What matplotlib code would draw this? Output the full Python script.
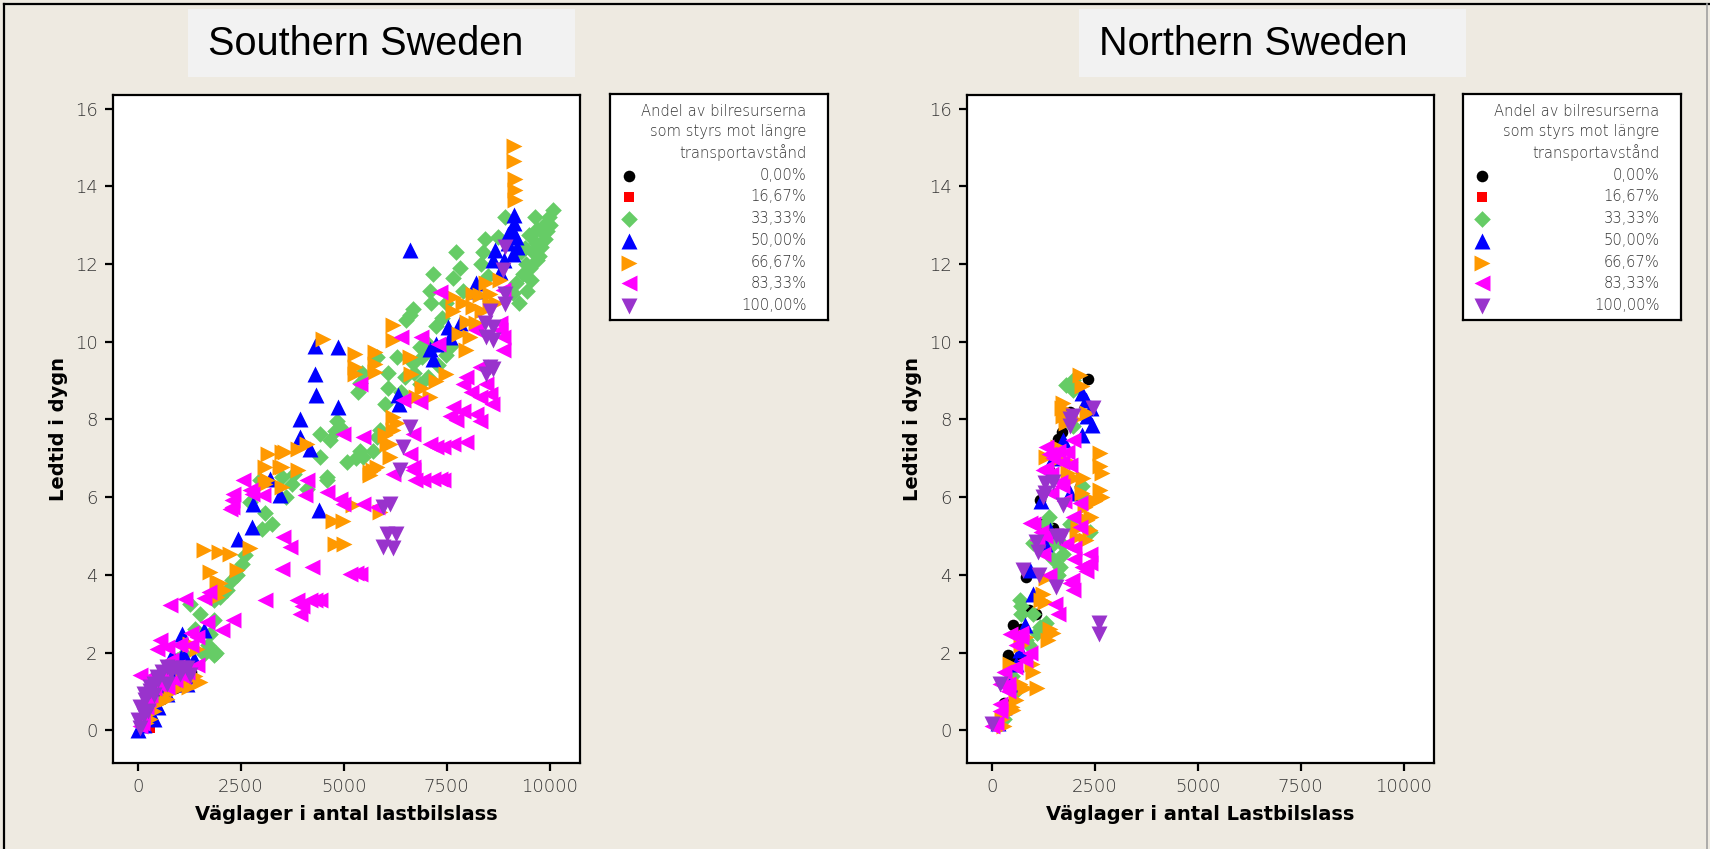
import matplotlib
matplotlib.use("Agg")
import matplotlib.pyplot as plt
from matplotlib.patches import Rectangle
from matplotlib.lines import Line2D

# series order / styling
labels = ["0,00%", "16,67%", "33,33%", "50,00%", "66,67%", "83,33%", "100,00%"]
colors = ["#000000", "#ff0000", "#66cc66", "#0000ff", "#ff9900", "#ff00ff", "#9933cc"]
markers = ["o", "s", "D", "^", ">", "<", "v"]
sizes = [70, 60, 72, 132, 132, 132, 132]

# ---------------- Southern Sweden ----------------
s_black_x = [100, 300, 1100, 1300, 900, 600]
s_black_y = [0.1, 0.35, 1.3, 1.5, 1.1, 0.8]
s_red_x = [300, 150]
s_red_y = [0.05, 0.1]
s_green_x = [10080, 9990, 9918, 9836, 9700, 9676, 9596, 9800, 9880, 9700, 9434, 9353, 9520, 9192, 9111,
             9636, 9500, 9400, 9300, 9560, 9750, 9950, 10000, 9460, 9250,
             8909, 8750, 8424, 8384, 8343, 8500, 7738, 7819, 7657, 7900, 7173, 7092, 7133, 6688, 6526,
             7495, 6600, 7400, 7250,
             7000, 7100, 6900, 6850, 6690, 7052, 6850, 7495, 7300, 7600, 6700, 6500, 6082, 6082, 6001,
             5355, 5450, 5400, 4830, 4800, 6300, 5800, 6400,
             4426, 4669, 4911, 5072, 4426, 5476, 5799, 5719, 4588, 5880, 5395, 5300, 4588, 3740, 3497,
             2973, 2730, 3013, 3255, 3100, 2528, 2286, 2165, 2407, 2600, 2003, 1842, 1842, 1761, 1842,
             1599, 1115, 953, 1276, 1519, 1700, 1400, 1900, 700, 400, 200, 500, 3800, 4100, 3600]
s_green_y = [13.4, 13.2, 13.05, 12.8, 12.9, 12.55, 12.3, 12.45, 12.65, 12.1, 12.0, 11.75, 11.9, 11.5, 11.25,
             13.2, 12.75, 12.4, 12.3, 11.6, 12.2, 12.85, 13.0, 11.3, 11.0,
             13.2, 12.7, 12.65, 12.3, 12.0, 11.7, 12.3, 11.9, 11.65, 11.3, 11.75, 11.3, 11.0, 10.85, 10.55,
             11.0, 10.7, 10.6, 10.4,
             10.0, 9.8, 9.6, 9.86, 9.45, 9.1, 8.92, 9.65, 9.4, 9.9, 9.2, 9.1, 9.2, 8.8, 8.4,
             8.7, 9.2, 8.95, 7.97, 7.7, 9.6, 9.6, 8.7,
             7.63, 7.46, 7.8, 6.9, 7.03, 7.03, 7.55, 7.2, 6.52, 7.72, 7.2, 7.0, 6.43, 6.35, 6.52,
             6.43, 5.88, 5.19, 5.32, 5.6, 4.29, 3.86, 3.6, 3.99, 4.5, 3.43, 3.35, 2.83, 2.49, 1.93,
             1.97, 1.97, 1.8, 3.26, 3.0, 2.2, 2.6, 2.0, 1.3, 0.7, 0.3, 0.9, 6.6, 6.2, 6.0]
s_blue_x = [6607, 9135, 9130, 9100, 9180, 8990, 9200, 9000, 9120, 8667, 8627, 8222, 8180, 8900, 8800,
            7536, 7819, 7576, 7253, 7092, 7173,
            4305, 4870, 4305, 4330, 3942, 3942, 4184, 4870, 6324,
            3215, 3457, 2811, 2771, 2447, 4410, 1074, 832, 1357, 1599, 307, 0, 711, 500, 150, 1000,
            1200, 600, 400, 6350, 900, 1300, 1100, 800]
s_blue_y = [12.35, 13.25, 13.05, 12.87, 12.7, 12.78, 12.45, 12.55, 12.27, 12.35, 12.1, 11.5, 11.3, 12.1, 11.8,
            10.38, 10.47, 10.12, 9.95, 9.82, 9.56,
            9.9, 9.86, 9.18, 8.62, 8.02, 7.55, 7.25, 8.32, 8.62,
            6.48, 6.05, 5.83, 5.23, 4.93, 5.66, 2.49, 1.93, 1.84, 2.57, 0.34, 0.0, 0.94, 0.6, 0.15, 1.5,
            1.2, 1.1, 0.3, 8.4, 1.2, 1.4, 2.0, 1.6]
s_orange_x = [9135, 9135, 9150, 9150, 9150,
              4507, 6203, 6203, 5274, 5274, 5274, 5759, 5759, 5759, 6607, 6647,
              7657, 7657, 8141, 8141, 8465, 8545, 8788, 8222, 8060, 7980, 8545, 7900, 8300, 8700, 8000,
              7800, 8350,
              7495, 7253, 7092, 6769, 6900,
              6203, 6203, 6122, 6122, 5638, 5799, 6300, 6000,
              3174, 3093, 3497, 3901, 4103, 3497, 3901, 3134, 3578, 3093, 3497, 3457,
              1599, 1963, 2245, 2730, 1761, 2407, 1922, 1922, 1276, 1438, 1236, 1518, 953, 700, 400, 200,
              4749, 4991, 5234, 4790, 5000, 6042, 5719, 5638, 5880, 2000, 2100,
              500, 800, 1100, 1400, 300]
s_orange_y = [15.05, 14.65, 14.2, 13.9, 13.64,
              10.08, 10.42, 10.04, 9.69, 9.35, 9.18, 9.74, 9.44, 9.22, 9.6, 9.18,
              11.15, 10.8, 11.24, 10.9, 11.5, 11.24, 11.58, 10.47, 10.12, 9.78, 10.98, 11.0, 11.2, 11.0, 10.5,
              10.2, 10.8,
              9.18, 9.0, 8.58, 8.58, 8.8,
              8.06, 7.72, 7.38, 7.03, 6.65, 6.78, 7.9, 7.6,
              7.12, 6.78, 7.16, 7.25, 7.38, 6.78, 6.69, 6.43, 7.16, 6.35, 6.26, 6.78,
              4.63, 4.59, 4.55, 4.68, 4.07, 4.12, 3.82, 3.43, 2.23, 2.1, 1.12, 1.24, 1.07, 0.8, 0.5, 0.2,
              5.4, 5.4, 5.79, 4.8, 4.8, 7.38, 6.69, 6.56, 5.62, 3.8, 3.6,
              0.7, 1.0, 1.3, 1.4, 0.3]
s_magenta_x = [7334, 6405, 6890, 7294, 8868, 8788, 8868, 8868, 8800, 8222,
               5395, 6446, 6850, 7980, 7900, 8303, 8465, 8545, 8303, 8600, 8100,
               7657, 7900, 8222, 7580, 7738, 8300,
               4992, 5476, 6688, 7092, 7415, 7657, 7980, 7250,
               6607, 6688, 6203, 7173, 7334, 6931, 6728, 7415, 6688,
               2568, 2730, 4103, 2326, 2286, 2245, 2771, 3053, 4063, 4588, 4911, 4991, 5476, 5799, 2300,
               3538, 3699, 3497, 4224, 5153, 5395, 5300,
               3093, 3861, 4184, 4426, 3942, 4000, 4300,
               792, 1155, 1721, 1600, 2326, 2043, 1680,
               549, 711, 468, 1034, 1438, 1300,
               65, 307, 711, 953, 1438, 100, 200, 300, 50, 600, 900, 1200,
               100, 250, 400, 500, 800, 1100, 1300, 1000]
s_magenta_y = [11.28, 10.12, 10.12, 9.95, 11.32, 10.47, 10.12, 9.78, 10.3, 10.29,
               8.92, 8.49, 8.45, 9.09, 8.92, 9.35, 8.92, 8.66, 8.58, 8.4, 8.7,
               8.32, 8.23, 8.15, 8.1, 7.98, 7.95,
               7.63, 7.55, 7.63, 7.38, 7.29, 7.38, 7.42, 7.3,
               7.12, 6.78, 6.6, 6.48, 6.48, 6.43, 6.43, 6.43, 6.69,
               6.43, 6.18, 6.43, 6.09, 5.92, 5.7, 6.09, 6.05, 6.05, 6.13, 5.96, 5.83, 5.83, 5.75, 5.75,
               4.98, 4.72, 4.16, 4.2, 4.03, 4.03, 4.05,
               3.35, 3.35, 3.35, 3.35, 3.0, 3.2, 3.35,
               3.22, 3.39, 3.56, 3.4, 2.83, 2.57, 2.79,
               2.32, 2.14, 2.1, 2.23, 2.4, 2.5,
               1.42, 1.37, 1.12, 1.63, 1.67, 0.3, 0.6, 0.9, 0.1, 1.4, 1.3, 1.5,
               0.2, 0.8, 1.1, 1.2, 1.8, 1.4, 2.2, 2.2]
s_purple_x = [8909, 8868, 8909, 8909, 8545, 8424, 8625, 8465, 8625, 8545, 8465, 8625,
              6607, 6446, 6365, 6122, 5961, 6042, 6284, 5961, 6203,
              711, 1034, 1276, 468, 307, 145, 65, 0, 186, 388, 900, 1100, 250, 50,
              300, 500, 600, 800, 400, 150, 700, 1200]
s_purple_y = [12.44, 11.84, 11.24, 10.98, 10.8, 10.47, 10.38, 10.12, 10.04, 9.35, 9.18, 9.3,
              7.81, 7.29, 6.69, 5.83, 5.75, 5.06, 5.06, 4.72, 4.68,
              1.63, 1.46, 1.42, 1.37, 1.12, 0.94, 0.6, 0.26, 0.77, 1.2, 1.6, 1.6, 0.5, 0.05,
              1.0, 1.3, 1.5, 1.5, 0.9, 0.4, 1.2, 1.6]

# ---------------- Northern Sweden ----------------
n_black_x = [2344, 1695, 1168, 1492, 843, 1087, 519, 397, 154, 2141, 600, 1400, 1600, 300, 1900, 1200, 700, 900]
n_black_y = [9.05, 7.69, 5.93, 5.2, 3.95, 3.0, 2.7, 1.93, 0.17, 6.27, 1.8, 6.7, 7.5, 0.7, 8.2, 5.3, 2.6, 3.1]
n_red_x = [150]
n_red_y = [0.1]
n_green_x = [1979, 1979, 1979, 1006, 1735, 1654, 1492, 681, 722, 1330, 1168, 843, 2384, 1500, 700, 1100,
             1900, 2200, 1600, 1800, 1400, 300, 500,
             1300, 1000, 900, 1500, 1700, 600, 2200]
n_green_y = [9.02, 8.76, 7.82, 4.81, 4.55, 4.21, 3.95, 3.35, 3.0, 2.75, 2.66, 2.32, 5.11, 4.4, 3.2, 2.5,
             5.3, 6.0, 4.0, 8.9, 5.5, 0.3, 1.4,
             5.3, 3.0, 2.2, 4.8, 4.8, 1.0, 6.3]
n_blue_x = [2303, 2425, 2182, 1735, 1411, 925, 681, 438, 150, 2300, 2400, 1500, 1200, 1300, 1900, 800,
            600, 300, 2200, 1000]
n_blue_y = [8.08, 7.86, 8.68, 7.47, 5.15, 4.12, 2.06, 1.2, 0.2, 8.5, 8.3, 7.0, 5.9, 4.8, 6.1, 2.7,
            1.7, 0.6, 7.6, 3.5]
n_orange_x = [2141, 2182, 1735, 1735, 2303, 2628, 2628, 2668, 2628, 2668, 2263, 2303, 2384, 2060, 1330,
              1208, 1411, 1370, 973, 681, 519, 1857, 2222, 1330, 843, 438, 600, 250, 1100, 1900, 2400,
              2100, 1600, 300,
              1700, 1800, 1650, 2000, 2200, 2500, 2300, 1300, 1500, 1000, 800, 500, 700, 1250, 1900, 2000]
n_orange_y = [9.15, 8.85, 8.42, 8.08, 8.16, 7.13, 6.79, 6.62, 6.19, 6.01, 5.76, 5.41, 5.15, 4.98, 3.91,
              3.35, 2.62, 2.32, 1.72, 1.2, 0.52, 6.62, 6.49, 7.04, 2.41, 1.72, 0.77, 0.3, 1.1, 6.9, 5.5,
              5.2, 7.3, 0.1,
              8.3, 7.9, 7.0, 6.5, 6.1, 5.9, 4.9, 3.3, 2.5, 1.5, 1.1, 0.6, 2.2, 3.5, 8.1, 8.0]
n_magenta_x = [1330, 1817, 1898, 1330, 1654, 1979, 2141, 1979, 2141, 925, 1249, 2384, 2384, 2182, 1938,
               1979, 1533, 438, 925, 560, 195, 0, 195, 1500, 1750, 2000, 1450, 700, 400, 1100,
               1400, 1600, 1700, 1450, 1200, 1000, 1300, 2000, 2300, 1900, 1800, 1400, 700, 600, 800,
               300, 400, 200, 100, 1600, 1250, 1700]
n_magenta_y = [7.3, 7.17, 6.83, 6.74, 6.4, 7.47, 5.84, 5.5, 5.24, 5.33, 4.55, 4.55, 4.3, 4.21, 3.87,
               3.61, 3.26, 2.49, 1.98, 1.63, 0.69, 0.1, 1.2, 7.0, 5.9, 4.7, 6.1, 2.4, 1.0, 4.9,
               7.1, 7.2, 6.9, 6.6, 5.1, 5.3, 5.0, 4.4, 4.1, 3.8, 4.8, 4.0, 2.5, 2.2, 1.8,
               1.5, 1.2, 0.5, 0.2, 3.0, 6.7, 6.3]
n_purple_x = [2449, 1979, 1898, 1290, 1249, 1735, 1654, 1087, 762, 1573, 195, 0, 2611, 2611, 1130, 1550,
              1900, 1150, 1700, 1300, 1500]
n_purple_y = [8.29, 8.08, 7.82, 6.36, 6.01, 5.8, 4.98, 4.85, 4.12, 3.69, 1.2, 0.17, 2.75, 2.49, 4.6, 5.0,
              8.0, 4.0, 5.0, 6.1, 6.4]

south = [(s_black_x, s_black_y), (s_red_x, s_red_y), (s_green_x, s_green_y), (s_blue_x, s_blue_y),
         (s_orange_x, s_orange_y), (s_magenta_x, s_magenta_y), (s_purple_x, s_purple_y)]
north = [(n_black_x, n_black_y), (n_red_x, n_red_y), (n_green_x, n_green_y), (n_blue_x, n_blue_y),
         (n_orange_x, n_orange_y), (n_magenta_x, n_magenta_y), (n_purple_x, n_purple_y)]

legend_title = ["Andel av bilresurserna", "som styrs mot längre", "transportavstånd"]

BG = "#eeeae1"
TICK_FONT = "DejaVu Sans"
TEXT_GREY = "#333333"

W, H = 1710, 849
fig = plt.figure(figsize=(W / 100, H / 100), dpi=100)
fig.patch.set_facecolor(BG)


def fx(px):
    return px / W


def fy(py):
    return 1 - py / H


def panel(left_px, data, xlabel, title, title_left_px, legend_left_px):
    ax = fig.add_axes([fx(left_px), fy(763), 467 / W, 668 / H])
    for (xs, ys), c, m, s in zip(data, colors, markers, sizes):
        ax.scatter(xs, ys, marker=m, s=s, color=c, linewidths=0, zorder=3)
    ax.set_xlim(-600, 10740)
    ax.set_ylim(-0.84, 16.35)
    ax.set_xticks([0, 2500, 5000, 7500, 10000])
    ax.set_yticks([0, 2, 4, 6, 8, 10, 12, 14, 16])
    for sp in ax.spines.values():
        sp.set_linewidth(1.6)
    ax.tick_params(direction="out", length=6, width=1.6, pad=5, labelsize=13, labelcolor=TEXT_GREY)
    for t in ax.get_xticklabels() + ax.get_yticklabels():
        t.set_fontfamily(TICK_FONT)
        t.set_fontweight("light")
    ax.set_xlabel(xlabel, fontsize=14, fontweight="bold", family="DejaVu Sans", labelpad=6)
    ax.set_ylabel("Ledtid i dygn", fontsize=14, fontweight="bold", family="DejaVu Sans", labelpad=5)

    # title plate
    fig.add_artist(Rectangle((fx(title_left_px), fy(77)), 387 / W, 68 / H,
                             transform=fig.transFigure, facecolor="#f2f2f2", edgecolor="none"))
    fig.text(fx(title_left_px + 20), fy(44), title, fontsize=28.5, family="Liberation Sans",
             ha="left", va="center", color="black")

    # legend box
    lg = fig.add_axes([fx(legend_left_px), fy(320), 218 / W, 226 / H])
    lg.set_xlim(0, 1)
    lg.set_ylim(0, 1)
    lg.set_xticks([])
    lg.set_yticks([])
    for sp in lg.spines.values():
        sp.set_linewidth(1.6)
    title_y = [0.922, 0.834, 0.741]
    for ty, line in zip(title_y, legend_title):
        lg.text(0.902, ty, line, ha="right", va="center", fontsize=10.6, family=TICK_FONT,
                fontweight="light", color=TEXT_GREY)
    entry_y = [0.638, 0.545, 0.448, 0.350, 0.253, 0.162, 0.062]
    for ey, lab, c, m, s in zip(entry_y, labels, colors, markers, sizes):
        lg.scatter([0.085], [ey], marker=m, s=s, color=c, linewidths=0)
        lg.text(0.902, ey, lab, ha="right", va="center", fontsize=10.6, family=TICK_FONT,
                fontweight="light", color=TEXT_GREY)
    return ax


panel(113, south, "Väglager i antal lastbilslass", "Southern Sweden", 188, 610)
panel(967, north, "Väglager i antal Lastbilslass", "Northern Sweden", 1079, 1463)

# outer frame
fig.add_artist(Line2D([fx(4), fx(4)], [0, fy(4)], color="black", lw=1.6, transform=fig.transFigure))
fig.add_artist(Line2D([fx(4), 1], [fy(4), fy(4)], color="black", lw=1.6, transform=fig.transFigure))
fig.add_artist(Line2D([fx(1707), fx(1707)], [0, fy(4)], color="#a0a0a0", lw=1.2, transform=fig.transFigure))

fig.savefig("out.png", dpi=100, facecolor=BG)
